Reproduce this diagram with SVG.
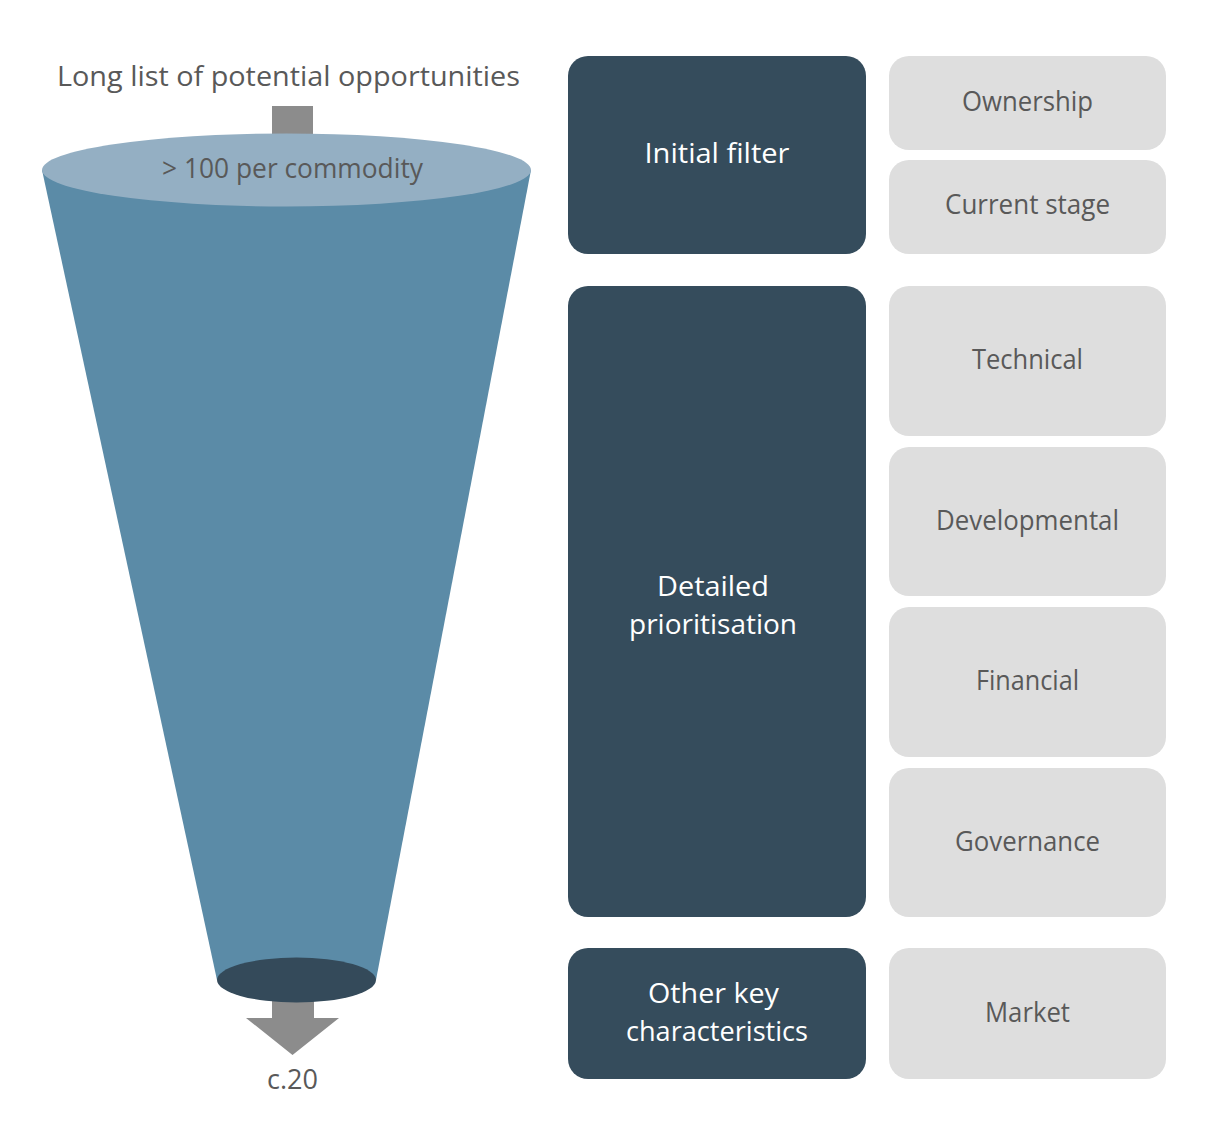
<svg xmlns="http://www.w3.org/2000/svg" width="1213" height="1134" viewBox="0 0 1213 1134">
<style>
.t{font-family:"Open Sans","Noto Sans","Liberation Sans",sans-serif;font-size:27px;text-anchor:middle}
.g{fill:#595959}
.w{fill:#ffffff}
.dark{fill:#354C5C}
.light{fill:#DEDEDE}
.arr{fill:#8C8C8C}
</style>
<rect width="1213" height="1134" fill="#ffffff"/>
<g id="connectors">
<rect class="arr" x="272" y="106" width="41" height="40"/>
<path class="arr" d="M272,990 L314,990 L314,1018 L339,1018 L292.5,1055 L246,1018 L272,1018 Z"/>
</g>
<g id="funnel">
<polygon points="42,170 531,170 376,980 217,980" fill="#5B8BA7"/>
<ellipse cx="286.5" cy="170" rx="244.5" ry="36.5" fill="#94AFC3"/>
<ellipse cx="296.5" cy="980" rx="79.5" ry="22.5" fill="#344A5A"/>
</g>
<g id="label-long-list"><text class="t g" x="288.5" y="86" textLength="463" lengthAdjust="spacingAndGlyphs">Long list of potential opportunities</text></g>
<g id="label-top"><text class="t g" x="292.5" y="178" textLength="261" lengthAdjust="spacingAndGlyphs">&gt; 100 per commodity</text></g>
<g id="label-bottom"><text class="t g" x="292.5" y="1089" textLength="51" lengthAdjust="spacingAndGlyphs">c.20</text></g>
<g id="initial-filter">
<rect class="dark" x="568" y="56" width="298" height="198" rx="20"/>
<text class="t w" x="717" y="163" textLength="145" lengthAdjust="spacingAndGlyphs">Initial filter</text>
</g>
<g id="ownership">
<rect class="light" x="889" y="56" width="277" height="94" rx="20"/>
<text class="t g" x="1027.5" y="111" textLength="131" lengthAdjust="spacingAndGlyphs">Ownership</text>
</g>
<g id="current-stage">
<rect class="light" x="889" y="160" width="277" height="94" rx="20"/>
<text class="t g" x="1027.5" y="214" textLength="165" lengthAdjust="spacingAndGlyphs">Current stage</text>
</g>
<g id="detailed-prioritisation">
<rect class="dark" x="568" y="286" width="298" height="631" rx="20"/>
<text class="t w" x="713" y="596" textLength="112" lengthAdjust="spacingAndGlyphs">Detailed</text>
<text class="t w" x="713" y="634" textLength="168" lengthAdjust="spacingAndGlyphs">prioritisation</text>
</g>
<g id="technical">
<rect class="light" x="889" y="286" width="277" height="150" rx="20"/>
<text class="t g" x="1027.5" y="369" textLength="111" lengthAdjust="spacingAndGlyphs">Technical</text>
</g>
<g id="developmental">
<rect class="light" x="889" y="447" width="277" height="149" rx="20"/>
<text class="t g" x="1027.5" y="530" textLength="183" lengthAdjust="spacingAndGlyphs">Developmental</text>
</g>
<g id="financial">
<rect class="light" x="889" y="607" width="277" height="150" rx="20"/>
<text class="t g" x="1027.5" y="690" textLength="103" lengthAdjust="spacingAndGlyphs">Financial</text>
</g>
<g id="governance">
<rect class="light" x="889" y="768" width="277" height="149" rx="20"/>
<text class="t g" x="1027.5" y="851" textLength="145" lengthAdjust="spacingAndGlyphs">Governance</text>
</g>
<g id="other-key">
<rect class="dark" x="568" y="948" width="298" height="131" rx="20"/>
<text class="t w" x="713.5" y="1003" textLength="131" lengthAdjust="spacingAndGlyphs">Other key</text>
<text class="t w" x="717" y="1041" textLength="182" lengthAdjust="spacingAndGlyphs">characteristics</text>
</g>
<g id="market">
<rect class="light" x="889" y="948" width="277" height="131" rx="20"/>
<text class="t g" x="1027.5" y="1022" textLength="85" lengthAdjust="spacingAndGlyphs">Market</text>
</g>
</svg>
